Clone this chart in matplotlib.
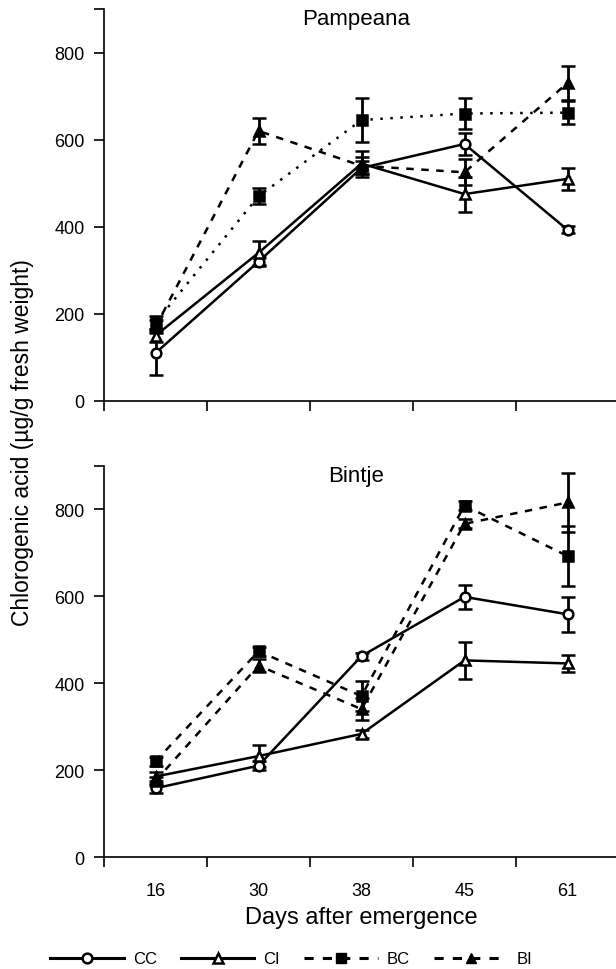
import matplotlib
matplotlib.use("Agg")
import matplotlib.pyplot as plt
from matplotlib.lines import Line2D

plt.rcParams['font.family'] = ['Liberation Sans', 'DejaVu Sans']

days = ["16", "30", "38", "45", "61"]
series = ["CC", "CI", "BC", "BI"]

# Pampeana (top panel)
pamp_cc = [110, 320, 535, 590, 393]
pamp_cc_err = [50, 10, 15, 25, 8]
pamp_ci = [150, 340, 545, 475, 510]
pamp_ci_err = [15, 28, 30, 40, 25]
pamp_bc = [180, 470, 645, 660, 662]
pamp_bc_err = [15, 18, 50, 35, 27]
pamp_bi = [170, 620, 540, 525, 730]
pamp_bi_err = [15, 30, 20, 30, 40]

# Bintje (bottom panel)
bint_cc = [158, 210, 462, 598, 558]
bint_cc_err = [10, 10, 8, 28, 40]
bint_ci = [185, 232, 283, 452, 445]
bint_ci_err = [10, 25, 10, 42, 20]
bint_bc = [220, 473, 370, 808, 692]
bint_bc_err = [10, 10, 35, 10, 70]
bint_bi = [175, 440, 340, 766, 815]
bint_bi_err = [10, 15, 25, 10, 68]

yticks = [0, 200, 400, 600, 800]


def draw_panel(ax, title, vals, errs, bc_style):
    x = list(range(len(days)))
    styles = [
        dict(ls="-", marker="o", mfc="white"),
        dict(ls="-", marker="^", mfc="white"),
        dict(ls=bc_style, marker="s", mfc="black"),
        dict(ls="--", marker="^", mfc="black"),
    ]
    for v, e, st in zip(vals, errs, styles):
        if st["ls"] == "-":
            dash = (None, None)
        elif st["ls"] == "--":
            dash = (3, 3)
        else:
            dash = (1, 3)
        line, _, _ = ax.errorbar(x, v, yerr=e, color="black", lw=1.8, ms=7,
                                 mec="black", mew=1.8, capsize=5, capthick=2,
                                 elinewidth=2, marker=st["marker"], mfc=st["mfc"])
        if dash[0] is not None:
            line.set_dashes(dash)
    ax.set_xlim(-0.5, len(days) - 0.5)
    ax.set_ylim(0, 900)
    ax.set_yticks(yticks + [900])
    ax.set_yticklabels([str(t) for t in yticks] + [""])
    ax.set_xticks([i - 0.5 for i in range(len(days) + 1)])
    ax.set_xticklabels([])
    ax.tick_params(axis="both", direction="out", length=7, width=1.2,
                   labelsize=13, pad=7)
    for s in ["top", "right"]:
        ax.spines[s].set_visible(False)
    for s in ["left", "bottom"]:
        ax.spines[s].set_linewidth(1.2)
    ax.text(1.95, 878, title, ha="center", va="center", fontsize=16)


fig = plt.figure(figsize=(6.16, 9.70), dpi=100)
ax1 = fig.add_axes([104 / 616, 0.5856, 515 / 616, 0.4041])
ax2 = fig.add_axes([104 / 616, 0.11546, 515 / 616, 0.4036])

draw_panel(ax1, "Pampeana", [pamp_cc, pamp_ci, pamp_bc, pamp_bi],
           [pamp_cc_err, pamp_ci_err, pamp_bc_err, pamp_bi_err], ":")
draw_panel(ax2, "Bintje", [bint_cc, bint_ci, bint_bc, bint_bi],
           [bint_cc_err, bint_ci_err, bint_bc_err, bint_bi_err], "--")

ax2.set_xticks(range(len(days)), minor=True)
ax2.set_xticklabels(days, minor=True)
ax2.tick_params(axis="x", which="minor", length=0, labelsize=13, pad=18)
ax2.set_xlabel("Days after emergence", fontsize=17, labelpad=5)

fig.text(23 / 616, 1 - 443 / 970, "Chlorogenic acid (µg/g fresh weight)",
         rotation=90, ha="center", va="center", fontsize=16.5)

handles = [
    Line2D([], [], color="black", lw=2.2, ls="-", marker="o", mfc="white", ms=7, mew=1.8),
    Line2D([], [], color="black", lw=2.2, ls="-", marker="^", mfc="white", ms=7, mew=1.8),
    Line2D([], [], color="black", lw=2.2, dashes=(3, 3), marker="s", mfc="black", ms=7),
    Line2D([], [], color="black", lw=2.2, dashes=(3, 3), marker="^", mfc="black", ms=7),
]
fig.legend(handles, series, loc="center", bbox_to_anchor=(0.473, 1 - 960 / 970),
           ncol=4, frameon=False, fontsize=12, handlelength=4.4,
           handletextpad=0.55, columnspacing=1.45, numpoints=1)

fig.savefig("out.png", dpi=100)
